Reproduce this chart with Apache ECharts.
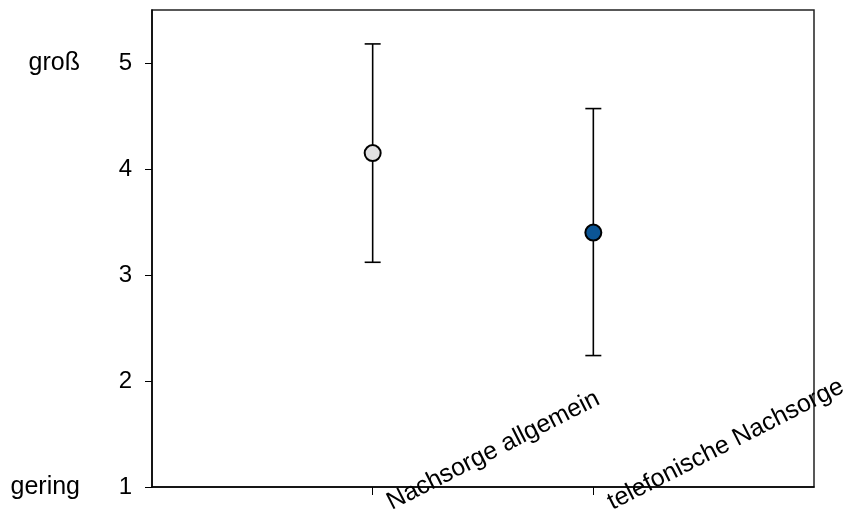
<!DOCTYPE html>
<html>
<head>
<meta charset="utf-8">
<script src="https://cdn.jsdelivr.net/npm/echarts@6/dist/echarts.min.js"></script>
<style>
html,body{margin:0;padding:0;background:#fff;}
#chart{width:854px;height:519px;}
</style>
</head>
<body>
<div id="chart"></div>
<script>
// Data
var categories = ['Nachsorge allgemein', 'telefonische Nachsorge'];
var categoryPositions = [1, 2];
var means = [4.15, 3.40];
var lowerBounds = [3.12, 2.24];
var upperBounds = [5.18, 4.57];
var markerColors = ['#e0e0e2', '#0b5595'];
var yTicks = [1, 2, 3, 4, 5];
var scaleEndValues = [1, 5];
var scaleEndLabels = ['gering', 'groß'];

var FONT = '"Liberation Sans", Arial, sans-serif';

var chart = echarts.init(document.getElementById('chart'), null, {renderer: 'canvas'});

var scatterData = means.map(function (m, i) {
  return {value: [categoryPositions[i], m], itemStyle: {color: markerColors[i]}};
});
var errorData = means.map(function (m, i) {
  return [categoryPositions[i], lowerBounds[i], upperBounds[i]];
});

var option = {
  backgroundColor: '#fff',
  animation: false,
  grid: {
    left: 152, right: 40, top: 10, bottom: 32,
    show: true, borderColor: '#222', borderWidth: 1.5, backgroundColor: 'transparent'
  },
  xAxis: {
    type: 'value', min: 0, max: 3, interval: 1,
    splitLine: {show: false},
    axisLine: {show: true, lineStyle: {color: '#000', width: 1.5}},
    axisTick: {show: true, customValues: categoryPositions, length: 8, lineStyle: {color: '#000', width: 1}},
    axisLabel: {
      customValues: categoryPositions,
      formatter: function (v) { return categories[Math.round(v) - 1] || ''; },
      rotate: 27, align: 'left', verticalAlign: 'middle',
      margin: 25, padding: [0, 0, 0, 18],
      fontSize: 25, fontFamily: FONT, color: '#000'
    }
  },
  yAxis: [{
    type: 'value', min: 1, max: 5.5, interval: 1,
    splitLine: {show: false},
    axisLine: {show: true, lineStyle: {color: '#000', width: 1.5}},
    axisTick: {show: true, customValues: yTicks, length: 7, lineStyle: {color: '#000', width: 1}},
    axisLabel: {
      customValues: yTicks,
      margin: 20, fontSize: 24, fontFamily: FONT, color: '#000'
    }
  }, {
    type: 'value', min: 1, max: 5.5, position: 'left',
    splitLine: {show: false},
    axisLine: {show: false},
    axisTick: {show: false},
    axisLabel: {
      customValues: scaleEndValues,
      formatter: function (v) { return scaleEndLabels[scaleEndValues.indexOf(Math.round(v))] || ''; },
      margin: 72, fontSize: 25, fontFamily: FONT, color: '#000'
    }
  }],
  series: [{
    type: 'custom',
    data: errorData,
    z: 2,
    renderItem: function (params, api) {
      var x = api.value(0);
      var lo = api.coord([x, api.value(1)]);
      var hi = api.coord([x, api.value(2)]);
      var half = 8;
      var style = {stroke: '#000', lineWidth: 1.6};
      return {
        type: 'group',
        children: [
          {type: 'line', shape: {x1: lo[0], y1: lo[1], x2: hi[0], y2: hi[1]}, style: style},
          {type: 'line', shape: {x1: lo[0] - half, y1: lo[1], x2: lo[0] + half, y2: lo[1]}, style: style},
          {type: 'line', shape: {x1: hi[0] - half, y1: hi[1], x2: hi[0] + half, y2: hi[1]}, style: style}
        ]
      };
    }
  }, {
    type: 'scatter',
    data: scatterData,
    z: 5,
    symbol: 'circle',
    symbolSize: 16,
    itemStyle: {borderColor: '#000', borderWidth: 2, opacity: 1}
  }]
};
chart.setOption(option);
</script>
</body>
</html>
